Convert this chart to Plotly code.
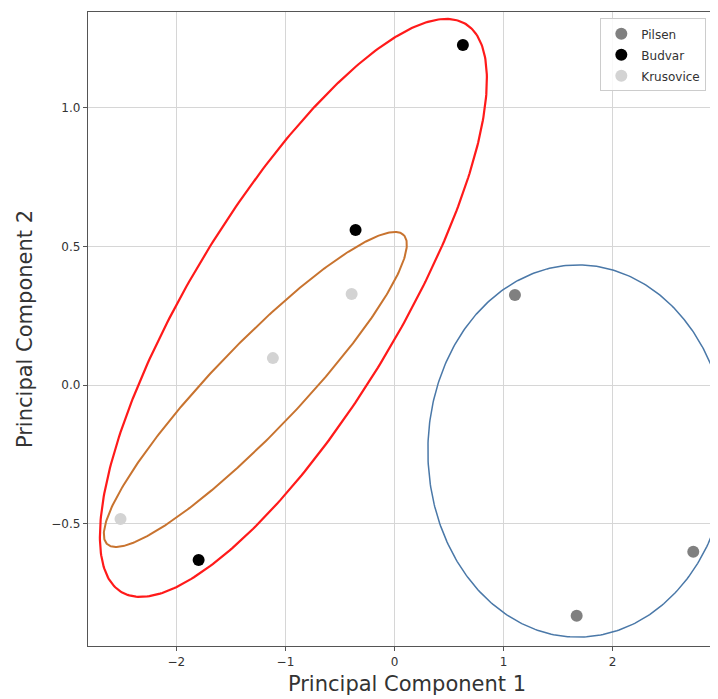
import numpy as np
import plotly.graph_objects as go

# --- data ---
pilsen_x = [1.104, 1.670, 2.739]
pilsen_y = [0.325, -0.832, -0.601]
budvar_x = [0.627, -0.357, -1.796]
budvar_y = [1.226, 0.559, -0.631]
krusovice_x = [-0.393, -1.115, -2.512]
krusovice_y = [0.328, 0.097, -0.483]

# ellipse parameters: centre x, centre y, x half-extent, y half-extent, correlation
ellipse_names = ["red", "orange", "blue"]
ellipse_cx = [-0.927, -1.276, 1.682]
ellipse_cy = [0.278, -0.016, -0.238]
ellipse_sx = [1.774, 1.389, 1.376]
ellipse_sy = [1.042, 0.568, 0.671]
ellipse_rho = [0.79, 0.92, 0.0]
ellipse_colors = ["#ff1a1a", "#c8732f", "#4a78a8"]
ellipse_widths = [2.2, 2.0, 1.5]

x_ticks = [-2, -1, 0, 1, 2, 3]
y_ticks = [-0.5, 0.0, 0.5, 1.0]

FONT = "DejaVu Sans"

fig = go.Figure()

t = np.linspace(0, 2 * np.pi, 400)
for cx, cy, sx, sy, p, col, w in zip(ellipse_cx, ellipse_cy, ellipse_sx, ellipse_sy,
                                    ellipse_rho, ellipse_colors, ellipse_widths):
    rx = np.sqrt(1 + p)
    ry = np.sqrt(1 - p)
    u = (rx * np.cos(t) - ry * np.sin(t)) / np.sqrt(2)
    v = (rx * np.cos(t) + ry * np.sin(t)) / np.sqrt(2)
    fig.add_trace(go.Scatter(x=cx + sx * u, y=cy + sy * v, mode="lines",
                             line=dict(color=col, width=w), showlegend=False,
                             hoverinfo="skip"))

for name, xs, ys, col in [("Pilsen", pilsen_x, pilsen_y, "#808080"),
                          ("Budvar", budvar_x, budvar_y, "#000000"),
                          ("Krusovice", krusovice_x, krusovice_y, "#d3d3d3")]:
    fig.add_trace(go.Scatter(x=xs, y=ys, mode="markers", name=name, legendgroup=name,
                             marker=dict(color=col, size=12, line=dict(width=0))))

axis_common = dict(showgrid=True, gridcolor="#d6d6d6", gridwidth=1,
                   zeroline=False, showline=True, linecolor="#555555", linewidth=1.3,
                   ticks="outside", ticklen=4, tickcolor="#555555",
                   tickfont=dict(family=FONT, size=12, color="#333333"))

fig.update_layout(
    width=718, height=699,
    margin=dict(l=80, r=0, t=4, b=61),
    paper_bgcolor="white", plot_bgcolor="white",
    font=dict(family=FONT, color="#333333"),
    xaxis=dict(range=[-2.81, 3.039], tickvals=x_ticks, mirror=True,
               title=dict(text="Principal Component 1", font=dict(family=FONT, size=21, color="#333333"), standoff=8),
               **axis_common),
    yaxis=dict(range=[-0.941, 1.345], tickvals=y_ticks, tickformat=".1f", mirror=False,
               title=dict(text="Principal Component 2", font=dict(family=FONT, size=21, color="#333333"), standoff=12),
               **axis_common),
    legend=dict(x=0.803, y=0.99, xanchor="left", yanchor="top",
                bgcolor="rgba(255,255,255,0.85)", bordercolor="#cccccc", borderwidth=1,
                tracegroupgap=2,
                font=dict(family=FONT, size=12, color="#333333"), itemsizing="constant"),
    showlegend=True,
)

fig.write_html("out.html")
